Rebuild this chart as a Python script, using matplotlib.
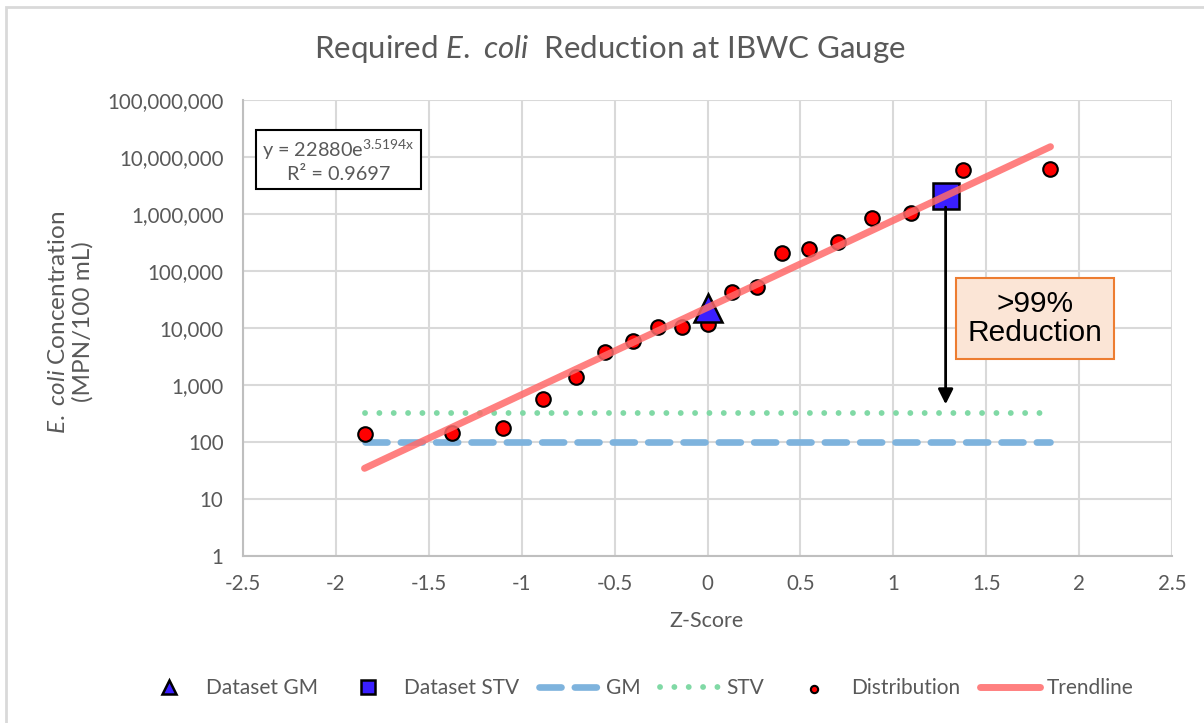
import matplotlib.pyplot as plt
import matplotlib.patches as mpatches
from matplotlib.ticker import FuncFormatter, FixedLocator
import numpy as np

plt.rcParams['font.family'] = ['Lato', 'DejaVu Sans']
plt.rcParams['mathtext.fontset'] = 'custom'
plt.rcParams['mathtext.rm'] = 'Lato'
plt.rcParams['mathtext.it'] = 'Lato:italic'

# distribution of samples (z-score, MPN/100 mL)
z_scores = [-1.846, -1.376, -1.099, -0.884, -0.708, -0.552, -0.403, -0.265, -0.136, 0.0,
            0.134, 0.265, 0.399, 0.548, 0.704, 0.884, 1.095, 1.377, 1.843]
ecoli = [138, 146, 178, 568, 1365, 3790, 5910, 10540, 10540, 11750,
         42300, 51800, 209000, 246000, 323000, 840000, 1050000, 5900000, 6080000]

gm_z, gm_val = 0.0, 22000
stv_z, stv_val = 1.2816, 2050000
gm_crit = 100
stv_crit = 320
fit_a, fit_b = 22880, 3.5194
line_x = [-1.846, 1.846]

grey = '#595959'

fig = plt.figure(figsize=(12.04, 7.23), dpi=100)
fig.patches.append(mpatches.Rectangle((6 / 1204, -0.05), 1.2, 1 - 7 / 723 + 0.05,
                                      transform=fig.transFigure, fill=False,
                                      edgecolor='#D9D9D9', linewidth=2))
ax = fig.add_axes([243 / 1204, 1 - 556 / 723, (1172 - 243) / 1204, (556 - 100) / 723])

ax.set_yscale('log')
ax.set_xlim(-2.5, 2.5)
ax.set_ylim(1, 1e8)
ax.xaxis.set_major_locator(FixedLocator(np.arange(-2.5, 2.51, 0.5)))
ax.yaxis.set_major_locator(FixedLocator([10 ** k for k in range(9)]))
ax.yaxis.set_minor_locator(FixedLocator([]))
ax.yaxis.set_major_formatter(FuncFormatter(lambda v, p: f'{v:,.0f}'))
ax.xaxis.set_major_formatter(FuncFormatter(lambda v, p: f'{v:g}'))
ax.grid(True, color='#D9D9D9', linewidth=1.5)
ax.set_axisbelow(True)
for s in ['top', 'right']:
    ax.spines[s].set_visible(False)
for s in ['left', 'bottom']:
    ax.spines[s].set_color('#BFBFBF')
    ax.spines[s].set_linewidth(1.5)
ax.tick_params(length=0, labelsize=14.8, colors=grey)
ax.tick_params(axis='x', pad=13)
ax.tick_params(axis='y', pad=14)

fx = np.array(line_x)
ax.plot(line_x, [gm_crit, gm_crit], color='#7EB3DD', lw=4.8, ls=(0, (3.3, 2.0)),
        dash_capstyle='round', label='GM', zorder=3)
ax.plot(line_x, [stv_crit, stv_crit], color='#80D9A5', lw=4.2, ls=(0, (0.01, 2.45)),
        dash_capstyle='round', label='STV', zorder=3)
ax.scatter(z_scores, ecoli, s=110, color='#FF0000', edgecolor='black', linewidth=1.5,
           label='Distribution', zorder=4)
ax.plot(gm_z, gm_val, marker='^', ms=20, color='#3A1FFF', mec='black', mew=1.8,
        ls='none', label='Dataset GM', zorder=5)
ax.plot(stv_z, stv_val, marker='s', ms=19, color='#3A1FFF', mec='black', mew=1.8,
        ls='none', label='Dataset STV', zorder=5)
ax.plot(fx, fit_a * np.exp(fit_b * fx), color='#FF6A6A', lw=5, alpha=0.85,
        solid_capstyle='round', label='Trendline', zorder=6)

ax.annotate('', xy=(stv_z, 410), xytext=(stv_z, stv_val * 0.72),
            arrowprops=dict(arrowstyle='-|>,head_width=0.45,head_length=0.9',
                            color='black', lw=2), zorder=7)
ax.text(1.763, 10 ** 4.17, '>99%\nReduction', ha='center', va='center',
        family='Liberation Sans', fontsize=21.5, linespacing=1.05, zorder=8,
        bbox=dict(boxstyle='square,pad=0.4', facecolor='#FBE5D6',
                  edgecolor='#ED7D31', linewidth=1.5))

ax.text(0.103, 0.868, r'y = 22880e$^{\mathregular{3.5194x}}$' + '\nR\u00b2 = 0.9697',
        transform=ax.transAxes, ha='center', va='center', fontsize=14.3, color=grey,
        linespacing=1.25, zorder=8,
        bbox=dict(boxstyle='square,pad=0.3', facecolor='white',
                  edgecolor='black', linewidth=1.5))

fig.text(610 / 1204, 1 - 49 / 723, r'Required $\mathit{E.\ coli}$  Reduction at IBWC Gauge',
         ha='center', va='center', fontsize=22.5, color=grey)
fig.text(71 / 1204, 1 - 322 / 723, '$\\mathit{E.\\ coli}$ Concentration\n(MPN/100 mL)',
         ha='center', va='center', rotation=90, fontsize=17.5, color=grey, linespacing=1.15)
fig.text(707 / 1204, 1 - 621 / 723, 'Z-Score', ha='center', va='center',
         fontsize=15.5, color=grey)

handles, labels = ax.get_legend_handles_labels()
order = ['Dataset GM', 'Dataset STV', 'GM', 'STV', 'Distribution', 'Trendline']
hmap = dict(zip(labels, handles))
leg = fig.legend([hmap[k] for k in order], order, loc='center',
                 bbox_to_anchor=(636 / 1204, 1 - 688 / 723), ncol=6, frameon=False,
                 fontsize=15, handlelength=2.9, columnspacing=0.95, handletextpad=0.3,
                 markerscale=0.5)
for t in leg.get_texts():
    t.set_color(grey)

fig.savefig('out.png', dpi=100)
